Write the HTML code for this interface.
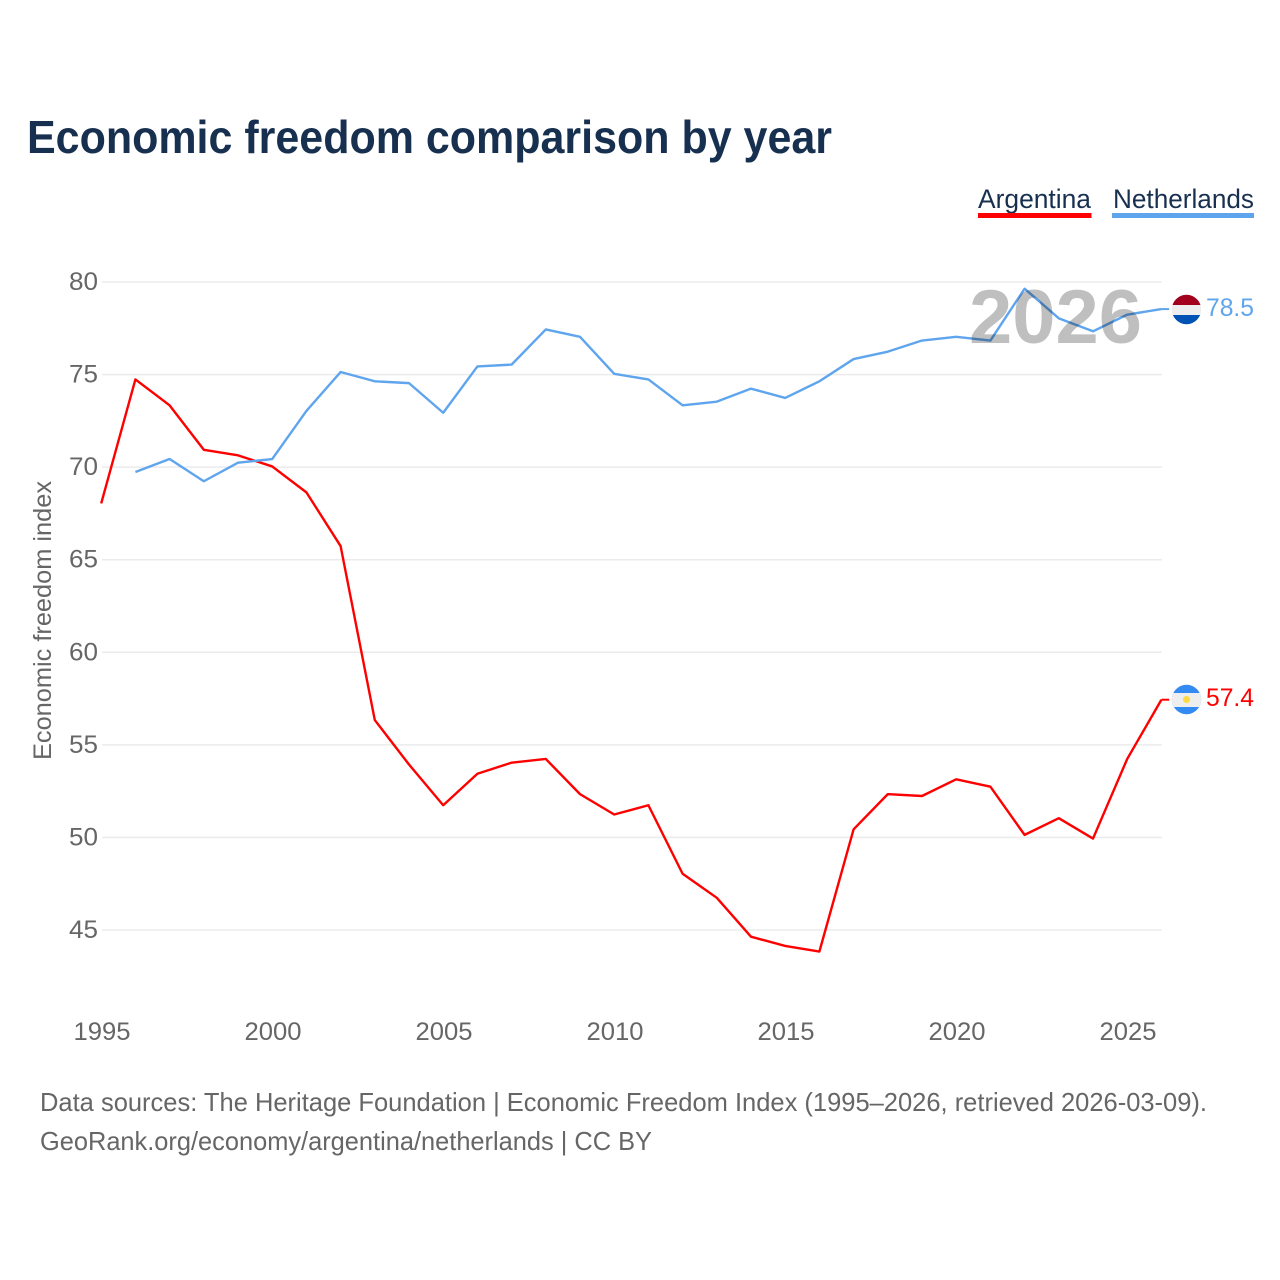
<!DOCTYPE html>
<html lang="en">
<head>
<meta charset="utf-8">
<title>Economic freedom comparison by year</title>
<style>
html,body{margin:0;padding:0;background:#fff}
svg{display:block}
text{font-family:"Liberation Sans",Arial,sans-serif}
</style>
</head>
<body>
<svg id="chart" xmlns="http://www.w3.org/2000/svg" width="1280" height="1280" viewBox="0 0 1280 1280">
  <rect width="1280" height="1280" fill="#fff"/>
  <text x="27" y="153" font-size="46" font-weight="700" fill="#18304f" textLength="805" lengthAdjust="spacingAndGlyphs">Economic freedom comparison by year</text>
  <g>
    <g>
      <text x="978" y="208" font-size="27" fill="#18304f" textLength="113" lengthAdjust="spacingAndGlyphs">Argentina</text>
      <rect x="978" y="213" width="113.5" height="5" fill="#ff0000"/>
    </g>
    <g>
      <text x="1113" y="208" font-size="27" fill="#18304f" textLength="141" lengthAdjust="spacingAndGlyphs">Netherlands</text>
      <rect x="1112" y="213" width="142" height="5" fill="#5fa5ee"/>
    </g>
  </g>
  <g id="grid"></g>
  <g id="yticks"></g>
  <g id="xticks"></g>
  <text transform="translate(51,620.5) rotate(-90)" text-anchor="middle" font-size="25" fill="#666" textLength="279" lengthAdjust="spacingAndGlyphs">Economic freedom index</text>
  <g id="series" transform="translate(-0.8,-0.7)"></g>
  <text x="969" y="343" font-size="76" font-weight="700" fill="#000" fill-opacity="0.25" textLength="173" lengthAdjust="spacingAndGlyphs">2026</text>
  <defs>
    <clipPath id="clip-nl"><circle cx="1186.5" cy="309.5" r="14.7"/></clipPath>
    <clipPath id="clip-ar"><circle cx="1186.5" cy="699.5" r="14.7"/></clipPath>
  </defs>
  <g clip-path="url(#clip-nl)">
    <rect x="1171" y="294" width="31" height="11" fill="#a2001d"/>
    <rect x="1171" y="305" width="31" height="10" fill="#eeeeee"/>
    <rect x="1171" y="315" width="31" height="10" fill="#0052b4"/>
  </g>
  <g clip-path="url(#clip-ar)">
    <rect x="1171" y="684" width="31" height="31" fill="#338af3"/>
    <rect x="1171" y="693" width="31" height="14" fill="#eeeeee"/>
    <circle cx="1186.5" cy="699.5" r="3.6" fill="#ffda44"/>
  </g>
  <text id="label-nl" x="1206" y="316" font-size="25" fill="#5fa5ee" textLength="48" lengthAdjust="spacingAndGlyphs"></text>
  <text id="label-ar" x="1206" y="706" font-size="25" fill="#ff0000" textLength="48" lengthAdjust="spacingAndGlyphs"></text>
  <text x="40" y="1111" font-size="26" fill="#666" textLength="1167" lengthAdjust="spacingAndGlyphs">Data sources: The Heritage Foundation | Economic Freedom Index (1995–2026, retrieved 2026-03-09).</text>
  <text x="40" y="1150" font-size="26" fill="#666" textLength="612" lengthAdjust="spacingAndGlyphs">GeoRank.org/economy/argentina/netherlands | CC BY</text>
</svg>
<script>
const years = [1995,1996,1997,1998,1999,2000,2001,2002,2003,2004,2005,2006,2007,2008,2009,2010,2011,2012,2013,2014,2015,2016,2017,2018,2019,2020,2021,2022,2023,2024,2025,2026];
const argentinaValues = [68.0,74.7,73.3,70.9,70.6,70.0,68.6,65.7,56.3,53.9,51.7,53.4,54.0,54.2,52.3,51.2,51.7,48.0,46.7,44.6,44.1,43.8,50.4,52.3,52.2,53.1,52.7,50.1,51.0,49.9,54.2,57.4];
const netherlandsValues = [null,69.7,70.4,69.2,70.2,70.4,73.0,75.1,74.6,74.5,72.9,75.4,75.5,77.4,77.0,75.0,74.7,73.3,73.5,74.2,73.7,74.6,75.8,76.2,76.8,77.0,76.8,79.6,78.0,77.3,78.2,78.5];
const yTickValues = [45,50,55,60,65,70,75,80];
const xTickValues = [1995,2000,2005,2010,2015,2020,2025];

const NS = 'http://www.w3.org/2000/svg';
function xScale(year){ return 102 + (year - 1995) * 34.2; }
function yScale(value){ return 282 + (80 - value) * 18.514; }
function make(tag, attrs, parent){
  const el = document.createElementNS(NS, tag);
  for (const k in attrs) el.setAttribute(k, attrs[k]);
  parent.appendChild(el);
  return el;
}
const grid = document.getElementById('grid');
const yticks = document.getElementById('yticks');
const xticks = document.getElementById('xticks');
const series = document.getElementById('series');

yTickValues.forEach(function(v){
  const line = make('line', {x1:102, x2:1162, y1:yScale(v), y2:yScale(v), stroke:'#ebebeb', 'stroke-width':1.5}, grid);
  
  
  const t = make('text', {x:98, y:yScale(v) + 8, 'text-anchor':'end', 'font-size':25, fill:'#666', textLength:29, lengthAdjust:'spacingAndGlyphs'}, yticks);
  t.textContent = v;
  
  
});
xTickValues.forEach(function(y){
  const t = make('text', {x:xScale(y), y:1040, 'text-anchor':'middle', 'font-size':25, fill:'#666', textLength:57, lengthAdjust:'spacingAndGlyphs'}, xticks);
  t.textContent = y;
  
  
});
function pathFor(values){
  let d = '';
  values.forEach(function(v, i){
    if (v === null) return;
    d += (d ? 'L' : 'M') + xScale(years[i]).toFixed(2) + ' ' + yScale(v).toFixed(2);
  });
  return d;
}
const lineAr = make('path', {d:pathFor(argentinaValues), fill:'none', stroke:'#ff0000', 'stroke-width':2.4, 'stroke-linejoin':'round'}, series);


const lineNl = make('path', {d:pathFor(netherlandsValues), fill:'none', stroke:'#5fa5ee', 'stroke-width':2.4, 'stroke-linejoin':'round'}, series);


const lastAr = argentinaValues[argentinaValues.length - 1];
const lastNl = netherlandsValues[netherlandsValues.length - 1];
const lastYear = years[years.length - 1];
const stubAr = make('line', {x1:xScale(lastYear), x2:1170, y1:yScale(lastAr), y2:yScale(lastAr), stroke:'#ff0000', 'stroke-width':2}, series);


const stubNl = make('line', {x1:xScale(lastYear), x2:1170, y1:yScale(lastNl), y2:yScale(lastNl), stroke:'#5fa5ee', 'stroke-width':2}, series);


document.getElementById('label-ar').textContent = lastAr.toFixed(1);
document.getElementById('label-nl').textContent = lastNl.toFixed(1);
</script>
</body>
</html>
